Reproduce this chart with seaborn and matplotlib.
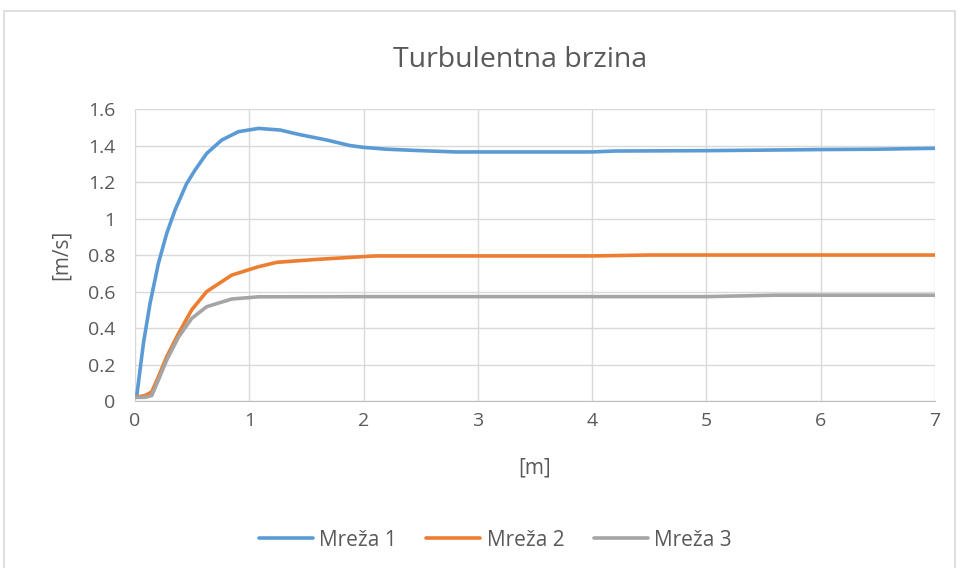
import pandas as pd
import numpy as np
import matplotlib.pyplot as plt
import seaborn as sns
from matplotlib.patches import Rectangle

# Data
x_m1 = [0, 0.015, 0.073, 0.131, 0.204, 0.277, 0.35, 0.45, 0.525, 0.627, 0.758, 0.904, 1.08,
        1.27, 1.44, 1.68, 1.88, 2.0, 2.2, 2.5, 2.8, 3.0, 3.5, 4.0, 4.2, 5.0, 6.0, 6.5, 7.0]
y_m1 = [0.02, 0.03, 0.316, 0.535, 0.754, 0.919, 1.047, 1.19, 1.266, 1.357, 1.43, 1.476, 1.494,
        1.485, 1.46, 1.43, 1.40, 1.39, 1.38, 1.372, 1.365, 1.365, 1.365, 1.365, 1.37, 1.372,
        1.378, 1.38, 1.385]

x_m2 = [0, 0.087, 0.146, 0.204, 0.277, 0.38, 0.496, 0.627, 0.846, 1.08, 1.24, 1.59, 1.88, 2.1,
        3.0, 4.0, 4.5, 5.5, 7.0]
y_m2 = [0.02, 0.03, 0.05, 0.133, 0.243, 0.37, 0.50, 0.60, 0.69, 0.736, 0.76, 0.776, 0.787,
        0.795, 0.795, 0.795, 0.80, 0.80, 0.80]

x_m3 = [0, 0.087, 0.146, 0.204, 0.277, 0.38, 0.496, 0.627, 0.846, 1.08, 2.0, 3.0, 4.0, 5.0,
        5.6, 6.0, 7.0]
y_m3 = [0.02, 0.02, 0.03, 0.115, 0.225, 0.35, 0.453, 0.517, 0.559, 0.571, 0.572, 0.572, 0.572,
        0.572, 0.58, 0.58, 0.58]

series_names = ['Mreža 1', 'Mreža 2', 'Mreža 3']
colors = ['#5B9BD5', '#ED7D31', '#A5A5A5']

df = pd.concat([
    pd.DataFrame({'x': x_m1, 'y': y_m1, 'serija': series_names[0]}),
    pd.DataFrame({'x': x_m2, 'y': y_m2, 'serija': series_names[1]}),
    pd.DataFrame({'x': x_m3, 'y': y_m3, 'serija': series_names[2]}),
])

sns.set_style('white')
plt.rcParams['font.family'] = ['Open Sans', 'DejaVu Sans']
text_color = '#595959'

fig = plt.figure(figsize=(9.58, 5.68), dpi=100)
ax = fig.add_axes([0.141, 0.294, 0.835, 0.514])

sns.lineplot(data=df, x='x', y='y', hue='serija', palette=colors, linewidth=2.6,
             sort=False, estimator=None, ax=ax, legend=False)

ax.set_xlim(0, 7)
ax.set_ylim(0, 1.6)
ax.set_xticks(range(0, 8))
ax.set_yticks(np.arange(0, 1.61, 0.2))
ax.set_yticklabels(['0', '0.2', '0.4', '0.6', '0.8', '1', '1.2', '1.4', '1.6'])
ax.grid(True, color='#d9d9d9', linewidth=1)
ax.set_axisbelow(True)
for s in ['top', 'right', 'left']:
    ax.spines[s].set_visible(False)
ax.spines['bottom'].set_color('#bfbfbf')
ax.tick_params(axis='y', colors=text_color, labelsize=14, length=0, pad=14)
ax.tick_params(axis='x', colors=text_color, labelsize=14, length=0, pad=8)

ax.set_xlabel('[m]', fontsize=15, color=text_color, labelpad=20)
ax.set_ylabel('[m/s]', fontsize=15, color=text_color, labelpad=12)
fig.text(0.543, 0.895, 'Turbulentna brzina', fontsize=20.5, color=text_color,
         ha='center', va='center')

handles = [plt.Line2D([0], [0], color=c, linewidth=2.6) for c in colors]
leg = fig.legend(handles, series_names, loc='center', bbox_to_anchor=(0.517, 0.049), ncol=3,
                 frameon=False, fontsize=15, handlelength=2.6, columnspacing=1.4, handletextpad=0.3)
for t in leg.get_texts():
    t.set_color(text_color)

# chart frame
fig.patches.append(Rectangle((0.004, -0.01), 0.993, 0.99, transform=fig.transFigure,
                             fill=False, edgecolor='#d9d9d9', linewidth=1.2))

fig.savefig('out.png', dpi=100)
